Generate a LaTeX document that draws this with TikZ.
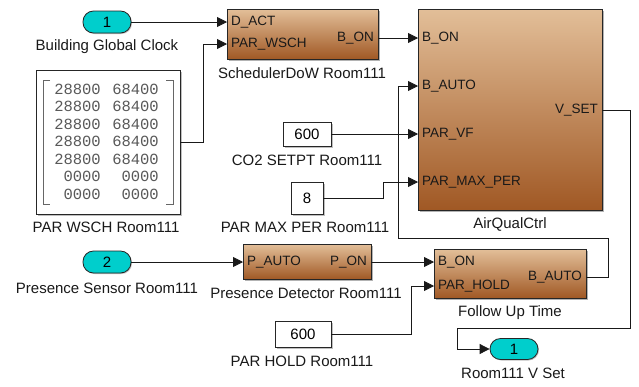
\documentclass[tikz,border=0pt]{standalone}
\usepackage{fontspec}
\setmainfont{Liberation Sans}
\newfontfamily\matfont{Liberation Mono}
\usetikzlibrary{arrows.meta,shadows}
\definecolor{blktop}{RGB}{226,190,152}
\definecolor{blkbot}{RGB}{160,88,36}
\definecolor{portcyan}{RGB}{0,206,204}
\definecolor{wire}{RGB}{25,25,25}
\begin{document}
\begin{tikzpicture}[x=1pt,y=-1pt,
  blk/.style={draw=black!85, line width=0.8pt, top color=blktop, bottom color=blkbot, anchor=north west, inner sep=0pt,
    drop shadow={shadow xshift=1.5pt, shadow yshift=-1.5pt, fill=black!50, opacity=0.6}},
  cst/.style={draw=black!85, line width=0.8pt, fill=white, inner sep=0pt, font=\fontsize{15}{17}\selectfont,
    drop shadow={shadow xshift=1.5pt, shadow yshift=-1.5pt, fill=black!50, opacity=0.5}},
  inp/.style={draw=black!85, line width=0.8pt, fill=portcyan, rounded corners=10.5pt, minimum width=48pt, minimum height=22pt,
    inner sep=0pt, font=\fontsize{15}{17}\selectfont,
    drop shadow={shadow xshift=1pt, shadow yshift=-1pt, fill=black!50, opacity=0.5}},
  prt/.style={inner xsep=4pt, inner ysep=0pt, text=black!90, font=\fontsize{13.5}{15}\selectfont},
  lbl/.style={inner sep=0pt, text=black!90, font=\fontsize{15}{17}\selectfont},
  matnum/.style={inner sep=0pt, anchor=east, text=black!65, font=\matfont\fontsize{15.5}{17}\selectfont},
  sig/.style={draw=wire, line width=0.8pt, -{Triangle[length=10pt,width=10pt]}},
  wr/.style={draw=wire, line width=0.8pt}
]
\useasboundingbox (0,0) rectangle (639,386);

% inports and outport
\node[inp] (in1) at (107,22) {1};
\node[lbl] (in1l) at (107,47) {Building Global Clock};
\node[inp] (in2) at (107,262) {2};
\node[lbl] (in2l) at (107,288) {Presence Sensor Room111};
\node[inp, minimum height=21pt] (out1) at (514,349) {1};
\node[lbl] (out1l) at (513,373) {Room111 V Set};

% week schedule matrix
\node[cst, minimum width=144pt, minimum height=144pt] (mat) at (108,142) {};
\foreach \a/\b [count=\i] in {28800/68400,28800/68400,28800/68400,28800/68400,28800/68400,0000/0000,0000/0000} {
  \node[matnum] (ma\i) at (101,71.5+17.5*\i) {\a};
  \node[matnum] (mb\i) at (159,71.5+17.5*\i) {\b};
}
\draw[black!60, line width=0.8pt] (50,80) -- (43,80) -- (43,204) -- (50,204);
\draw[black!60, line width=0.8pt] (166,80) -- (173,80) -- (173,204) -- (166,204);
\node[lbl] (matl) at (106,227) {PAR WSCH Room111};

% constants
\node[cst, minimum width=48pt, minimum height=24pt] (co2) at (307,134) {600};
\node[lbl] (co2l) at (307,160) {CO2 SETPT Room111};
\node[cst, minimum width=32pt, minimum height=32pt] (mp) at (307,198) {8};
\node[lbl] (mpl) at (305,227) {PAR MAX PER Room111};
\node[cst, minimum width=56pt, minimum height=26pt] (hold) at (303,334) {600};
\node[lbl] (holdl) at (302,361) {PAR HOLD Room111};

% SchedulerDoW
\node[blk, minimum width=151pt, minimum height=50pt] (sch) at (227,9) {};
\node[prt, anchor=west] (schD) at (227,22) {D\_ACT};
\node[prt, anchor=west] (schP) at (227,44) {PAR\_WSCH};
\node[prt, anchor=east] (schO) at (378,38) {B\_ON};
\node[lbl] (schl) at (302,73) {SchedulerDoW Room111};

% AirQualCtrl
\node[blk, minimum width=184pt, minimum height=201pt] (aq) at (418,9) {};
\node[prt, anchor=west] (aqB) at (418,38) {B\_ON};
\node[prt, anchor=west] (aqA) at (418,86) {B\_AUTO};
\node[prt, anchor=west] (aqF) at (418,134) {PAR\_VF};
\node[prt, anchor=west] (aqM) at (418,182) {PAR\_MAX\_PER};
\node[prt, anchor=east] (aqV) at (602,110) {V\_SET};
\node[lbl] (aql) at (510,224) {AirQualCtrl};

% Presence Detector
\node[blk, minimum width=128pt, minimum height=35pt] (pd) at (243,244) {};
\node[prt, anchor=west] (pdA) at (243,262) {P\_AUTO};
\node[prt, anchor=east] (pdO) at (371,262) {P\_ON};
\node[lbl] (pdl) at (306,293) {Presence Detector Room111};

% Follow Up Time
\node[blk, minimum width=152pt, minimum height=49pt] (fu) at (434,249) {};
\node[prt, anchor=west] (fuB) at (434,262) {B\_ON};
\node[prt, anchor=west] (fuH) at (434,286) {PAR\_HOLD};
\node[prt, anchor=east] (fuO) at (586,277) {B\_AUTO};
\node[lbl] (ful) at (510,313) {Follow Up Time};

% signals
\draw[sig] (in1) -- (schD.west);
\draw[sig] (mat.east) -- ++(23,0) |- (schP.west);
\draw[sig] (schO.east) -- (aqB.west);
\draw[sig] (co2) -- (aqF.west);
\draw[sig] (mp.east) -- ++(60,0) |- (aqM.west);
\draw[sig] (in2) -- (pdA.west);
\draw[sig] (pdO.east) -- (fuB.west);
\draw[sig] (hold.east) -- ++(80,0) |- (fuH.west);
\draw[sig] (fuO.east) -- ++(22,0) -- ++(0,-39) -- ++(-210,0) |- (aqA.west);
\draw[sig] (aqV.east) -- ++(28,0) -- ++(0,218) -- ++(-173,0) |- (out1.west);
\end{tikzpicture}
\end{document}
